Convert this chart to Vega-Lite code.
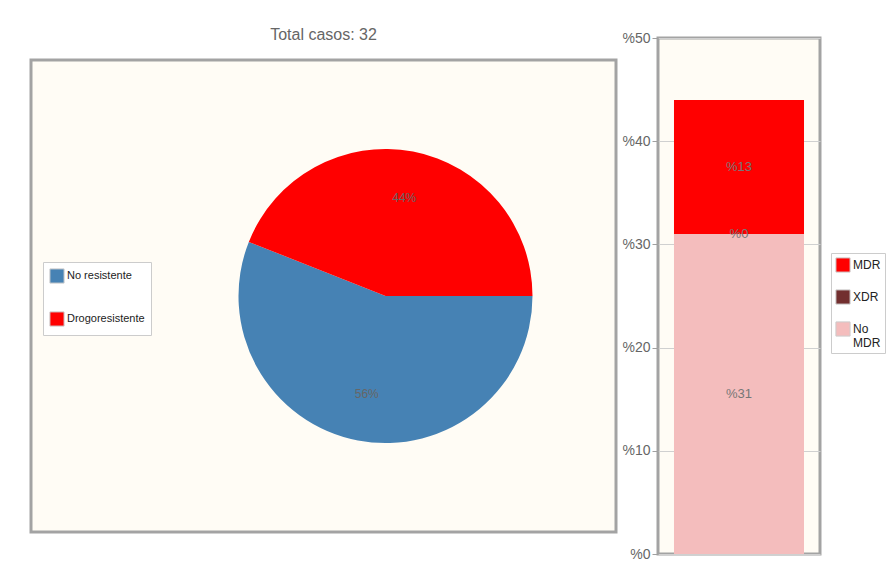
{
  "$schema": "https://vega.github.io/schema/vega-lite/v6.json",
  "background": "white",
  "padding": {"left": 29, "top": 25, "right": 5, "bottom": 5},
  "spacing": 42,
  "bounds": "flush",
  "center": true,
  "config": {
    "font": "Liberation Sans, sans-serif",
    "view": {"fill": "#fffcf5", "stroke": "#a3a3a3", "strokeWidth": 3}
  },
  "resolve": {"scale": {"color": "independent"}, "legend": {"color": "independent"}},
  "hconcat": [
    {
      "width": 585,
      "height": 472,
      "view": {"fill": "#fffcf5", "stroke": "#a3a3a3", "strokeWidth": 3},
      "title": {"text": "Total casos: 32", "fontSize": 16, "fontWeight": "normal", "color": "#666666", "offset": 17, "font": "Liberation Sans, sans-serif"},
      "data": {"values": [
        {"tipo": "No resistente", "valor": 56},
        {"tipo": "Drogoresistente", "valor": 44}
      ]},
      "encoding": {
        "theta": {"field": "valor", "type": "quantitative", "stack": true, "scale": {"range": [1.5708, 7.854]}},
        "order": {"field": "tipo", "sort": "descending"}
      },
      "layer": [
        {
          "mark": {"type": "arc", "outerRadius": 147, "xOffset": 62},
          "encoding": {
            "color": {
              "field": "tipo", "type": "nominal",
              "scale": {"domain": ["No resistente", "Drogoresistente"], "range": ["#4682b4", "#ff0000"]},
              "legend": {
                "title": null, "orient": "none", "legendX": 12, "legendY": 202,
                "fillColor": "white", "strokeColor": "#cccccc", "padding": 6,
                "symbolType": "square", "symbolSize": 200, "symbolStrokeColor": "#cccccc", "symbolStrokeWidth": 1,
                "labelFontSize": 11, "labelColor": "#222222", "rowPadding": 23, "labelOffset": 2,
                "labelFont": "Liberation Sans, sans-serif"
              }
            }
          }
        },
        {
          "mark": {"type": "text", "radius": 100, "xOffset": 62, "fontSize": 12, "color": "#666666", "text": {"expr": "datum.valor + '%'"}},
          "encoding": {"detail": {"field": "tipo", "type": "nominal"}}
        }
      ]
    },
    {
      "width": 162,
      "height": 516,
      "data": {"values": [
        {"categoria": "No MDR", "valor": 31, "orden": 1},
        {"categoria": "XDR", "valor": 0, "orden": 2},
        {"categoria": "MDR", "valor": 13, "orden": 3}
      ]},
      "encoding": {
        "x": {"datum": "casos", "type": "nominal", "scale": {"paddingInner": 0, "paddingOuter": 0.123}, "axis": null},
        "y": {
          "field": "valor", "type": "quantitative", "stack": "zero",
          "scale": {"domain": [0, 50]},
          "axis": {
            "title": null, "values": [0, 10, 20, 30, 40, 50], "labelExpr": "'%' + datum.value",
            "grid": true, "gridColor": "#d0d0d0", "domain": false, "tickColor": "#a0a0a0", "tickSize": 6,
            "labelFontSize": 14, "labelColor": "#666666", "labelPadding": 2,
            "labelFont": "Liberation Sans, sans-serif"
          }
        },
        "order": {"field": "orden", "type": "quantitative"}
      },
      "layer": [
        {
          "mark": {"type": "bar"},
          "encoding": {
            "color": {
              "field": "categoria", "type": "nominal",
              "scale": {"domain": ["MDR", "XDR", "No MDR"], "range": ["#ff0000", "#722f2f", "#f4bdbd"]},
              "legend": {
                "title": null, "orient": "none", "legendX": 173, "legendY": 215,
                "fillColor": "white", "strokeColor": "#cccccc", "padding": 4,
                "symbolType": "square", "symbolSize": 200, "symbolStrokeColor": "#cccccc", "symbolStrokeWidth": 1,
                "labelFontSize": 12, "labelColor": "#222222", "rowPadding": 12, "labelOffset": 2,
                "labelExpr": "datum.label == 'No MDR' ? ['No', 'MDR'] : datum.label",
                "labelFont": "Liberation Sans, sans-serif"
              }
            }
          }
        },
        {
          "mark": {"type": "text", "fontSize": 13, "color": "#777777", "text": {"expr": "'%' + datum.valor"}},
          "encoding": {
            "y": {"field": "valor", "type": "quantitative", "stack": "zero", "bandPosition": 0.5},
            "detail": {"field": "categoria", "type": "nominal"}
          }
        }
      ]
    }
  ]
}
